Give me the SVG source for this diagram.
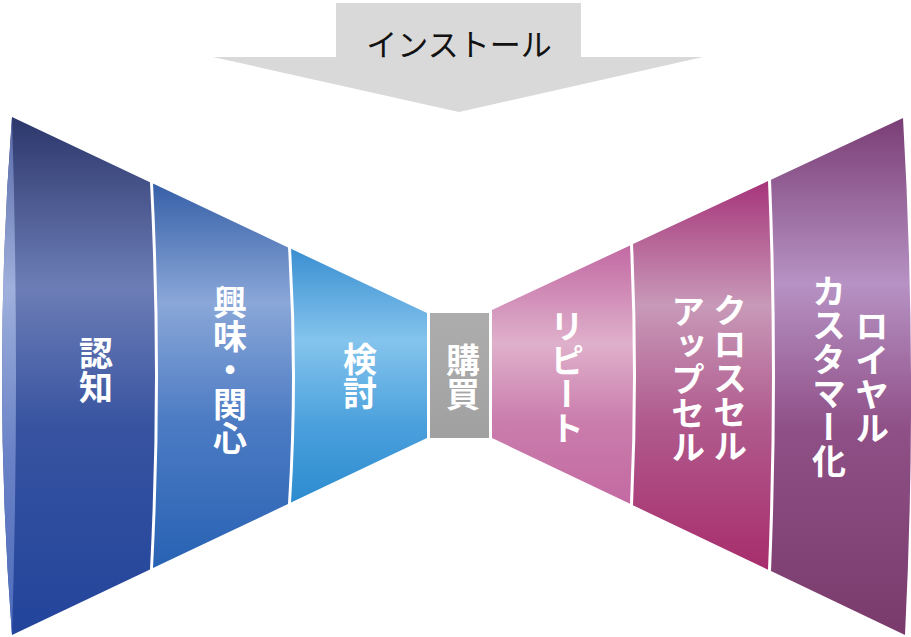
<svg xmlns="http://www.w3.org/2000/svg" width="911" height="637" viewBox="0 0 911 637">
  <defs>
    <style>
      .lbl { font-family: "Noto Sans CJK JP", "Noto Sans CJK SC", sans-serif; font-weight: 700; font-size: 34px; fill: #ffffff; writing-mode: vertical-rl; text-anchor: middle; }
      .top { font-family: "Noto Sans CJK JP", "Noto Sans CJK SC", sans-serif; font-weight: 400; font-size: 31px; fill: #111111; text-anchor: middle; }
    </style>
    <linearGradient id="gL1" x1="0" y1="0" x2="0" y2="1">
      <stop offset="0" stop-color="#2c376b"/>
      <stop offset="0.33" stop-color="#6c7db6"/>
      <stop offset="0.6" stop-color="#3753a0"/>
      <stop offset="1" stop-color="#22449b"/>
    </linearGradient>
    <linearGradient id="gCap" x1="0" y1="0" x2="0" y2="1">
      <stop offset="0" stop-color="#5566a6"/>
      <stop offset="0.33" stop-color="#9fb0dc"/>
      <stop offset="0.65" stop-color="#6a82c6"/>
      <stop offset="1" stop-color="#4d6bbb"/>
    </linearGradient>
    <linearGradient id="gL2" x1="0" y1="0" x2="0" y2="1">
      <stop offset="0" stop-color="#3760a8"/>
      <stop offset="0.31" stop-color="#8aa7d8"/>
      <stop offset="0.62" stop-color="#4c7bc3"/>
      <stop offset="1" stop-color="#2862b4"/>
    </linearGradient>
    <linearGradient id="gL3" x1="0" y1="0" x2="0" y2="1">
      <stop offset="0" stop-color="#3a8fd1"/>
      <stop offset="0.36" stop-color="#84c4ed"/>
      <stop offset="0.7" stop-color="#4aa0dc"/>
      <stop offset="1" stop-color="#2c8bcf"/>
    </linearGradient>
    <linearGradient id="gMid" x1="0" y1="0" x2="0" y2="1">
      <stop offset="0" stop-color="#acacac"/>
      <stop offset="0.4" stop-color="#a9a9a9"/>
      <stop offset="1" stop-color="#a0a0a0"/>
    </linearGradient>
    <linearGradient id="gR1" x1="0" y1="0" x2="0" y2="1">
      <stop offset="0" stop-color="#c269a3"/>
      <stop offset="0.38" stop-color="#dfb0cb"/>
      <stop offset="0.68" stop-color="#ca7dad"/>
      <stop offset="1" stop-color="#c36aa2"/>
    </linearGradient>
    <linearGradient id="gR2" x1="0" y1="0" x2="0" y2="1">
      <stop offset="0" stop-color="#a6347a"/>
      <stop offset="0.32" stop-color="#c899b8"/>
      <stop offset="0.62" stop-color="#b05a8d"/>
      <stop offset="1" stop-color="#a72d6c"/>
    </linearGradient>
    <linearGradient id="gR3" x1="0" y1="0" x2="0" y2="1">
      <stop offset="0" stop-color="#7a3e75"/>
      <stop offset="0.32" stop-color="#b792c4"/>
      <stop offset="0.6" stop-color="#8f5087"/>
      <stop offset="1" stop-color="#793a6b"/>
    </linearGradient>
  </defs>

  <rect x="0" y="0" width="911" height="637" fill="#ffffff"/>

  <g id="install-arrow">
    <path d="M336,3 H581 V57 H703 L459,112 L213,57 H336 Z" fill="#d9d9d9"/>
    <text class="top" x="459" y="56">インストール</text>
  </g>

  <g id="node-ninchi">
    <path d="M12,117 L150,182.2 Q160,376 150,569.5 L12,635 Q-8,376 12,117 Z" fill="url(#gL1)"/>
    <path d="M12,117 Q-8,376 12,635 Q20,376 12,117 Z" fill="url(#gCap)"/>
    <text class="lbl" x="96" y="370">認知</text>
  </g>

  <g id="node-kyoumi">
    <path d="M153,183.6 L288,247.4 Q296,376 288,504 L153,568.1 Q163,376 153,183.6 Z" fill="url(#gL2)"/>
    <text class="lbl" x="230" y="370">興味・関心</text>
  </g>

  <g id="node-kentou">
    <path d="M291,248.8 L427,313 L427,438 L291,502.6 Q299,376 291,248.8 Z" fill="url(#gL3)"/>
    <text class="lbl" x="360" y="376">検討</text>
  </g>

  <g id="node-kounyu">
    <rect x="430" y="313" width="59" height="125" fill="url(#gMid)"/>
    <text class="lbl" x="463" y="377">購買</text>
  </g>

  <g id="node-repeat">
    <path d="M492,310 L630,245.5 Q636,376 630,503.8 L492,438 Z" fill="url(#gR1)"/>
    <text class="lbl" x="567" y="377">リピート</text>
  </g>

  <g id="node-crosssell">
    <path d="M633,244.1 L768,181.1 Q776,376 768,569.7 L633,505.3 Q639,376 633,244.1 Z" fill="url(#gR2)"/>
    <text class="lbl" x="730" y="378">クロスセル</text>
    <text class="lbl" x="688" y="379">アップセル</text>
  </g>

  <g id="node-loyal">
    <path d="M771,179.7 L903,118 Q918,376 905,635 L771,571.1 Q779,376 771,179.7 Z" fill="url(#gR3)"/>
    <text class="lbl" x="872" y="377">ロイヤル</text>
    <text class="lbl" x="829" y="376">カスタマー化</text>
  </g>

  <g id="connectors"></g>
</svg>
